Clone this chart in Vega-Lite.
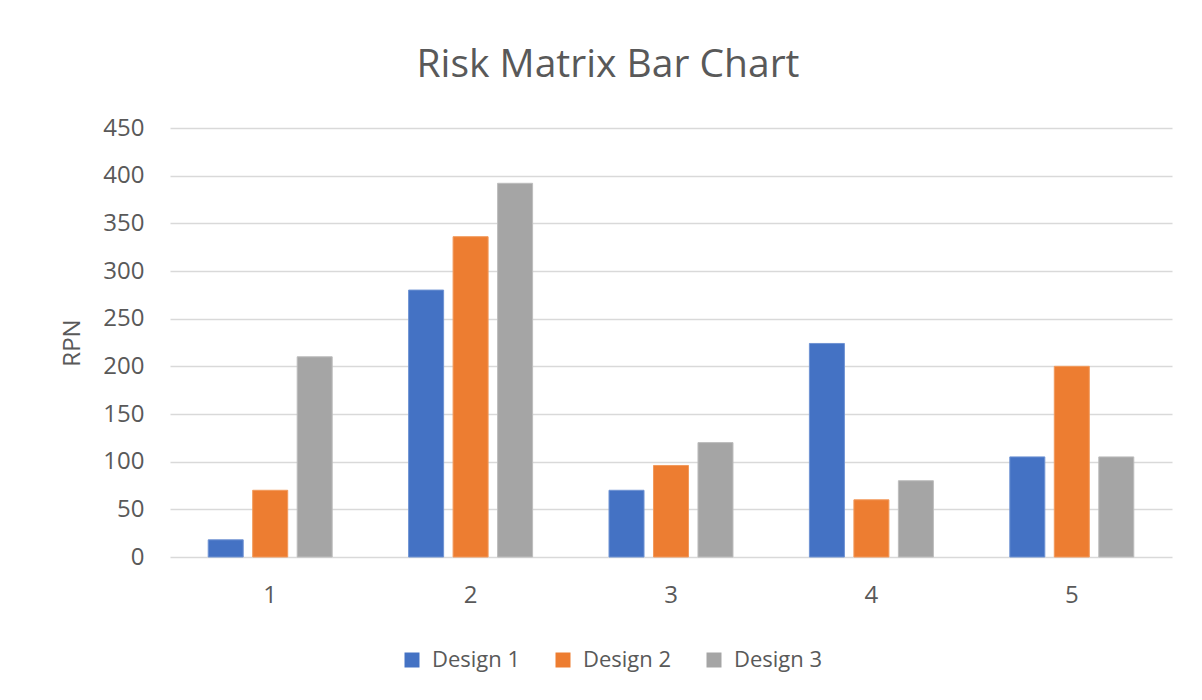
{
  "$schema": "https://vega.github.io/schema/vega-lite/v6.json",
  "width": 1002,
  "height": 429,
  "autosize": {"type": "none"},
  "padding": {"left": 170, "top": 128, "right": 30, "bottom": 143},
  "background": "white",
  "title": {
    "text": "Risk Matrix Bar Chart",
    "font": "Open Sans",
    "fontSize": 39,
    "fontWeight": "normal",
    "color": "#595959",
    "anchor": "middle",
    "dx": -63,
    "offset": 31
  },
  "data": {
    "values": [
      {"item": "1", "design": "Design 1", "rpn": 18},
      {"item": "1", "design": "Design 2", "rpn": 70},
      {"item": "1", "design": "Design 3", "rpn": 210},
      {"item": "2", "design": "Design 1", "rpn": 280},
      {"item": "2", "design": "Design 2", "rpn": 336},
      {"item": "2", "design": "Design 3", "rpn": 392},
      {"item": "3", "design": "Design 1", "rpn": 70},
      {"item": "3", "design": "Design 2", "rpn": 96},
      {"item": "3", "design": "Design 3", "rpn": 120},
      {"item": "4", "design": "Design 1", "rpn": 224},
      {"item": "4", "design": "Design 2", "rpn": 60},
      {"item": "4", "design": "Design 3", "rpn": 80},
      {"item": "5", "design": "Design 1", "rpn": 105},
      {"item": "5", "design": "Design 2", "rpn": 200},
      {"item": "5", "design": "Design 3", "rpn": 105}
    ]
  },
  "mark": {"type": "bar", "strokeWidth": 1},
  "encoding": {
    "x": {
      "field": "item",
      "type": "nominal",
      "scale": {"paddingInner": 0.334, "paddingOuter": 0.167},
      "axis": {
        "title": null,
        "labelAngle": 0,
        "labelFont": "Open Sans",
        "labelFontSize": 24,
        "labelColor": "#595959",
        "labelPadding": 26,
        "ticks": false,
        "domain": false,
        "grid": false
      }
    },
    "xOffset": {
      "field": "design",
      "type": "nominal",
      "scale": {"paddingInner": 0.213, "paddingOuter": 0.1065}
    },
    "y": {
      "field": "rpn",
      "type": "quantitative",
      "scale": {"domain": [0, 450], "nice": false},
      "axis": {
        "title": "RPN",
        "titleFont": "Open Sans",
        "titleFontSize": 24,
        "titleFontWeight": "normal",
        "titleColor": "#595959",
        "titlePadding": 18,
        "values": [0, 50, 100, 150, 200, 250, 300, 350, 400, 450],
        "labelFont": "Open Sans",
        "labelFontSize": 24,
        "labelColor": "#595959",
        "labelPadding": 26,
        "ticks": false,
        "domain": false,
        "grid": true,
        "gridColor": "#d9d9d9",
        "gridWidth": 1.5
      }
    },
    "color": {
      "field": "design",
      "type": "nominal",
      "scale": {
        "domain": ["Design 1", "Design 2", "Design 3"],
        "range": ["#4472C4", "#ED7D31", "#A5A5A5"]
      },
      "legend": {
        "title": null,
        "orient": "none",
        "direction": "horizontal",
        "legendX": 231,
        "legendY": 521,
        "symbolType": "square",
        "symbolSize": 225,
        "symbolStrokeWidth": 0,
        "labelFont": "Open Sans",
        "labelFontSize": 22,
        "labelColor": "#595959",
        "columnPadding": 31,
        "labelOffset": 9
      }
    },
    "stroke": {
      "field": "design",
      "type": "nominal",
      "scale": {
        "domain": ["Design 1", "Design 2", "Design 3"],
        "range": ["#6f93d3", "#f29a5c", "#bdbdbd"]
      },
      "legend": null
    }
  },
  "config": {
    "view": {"stroke": null}
  }
}
